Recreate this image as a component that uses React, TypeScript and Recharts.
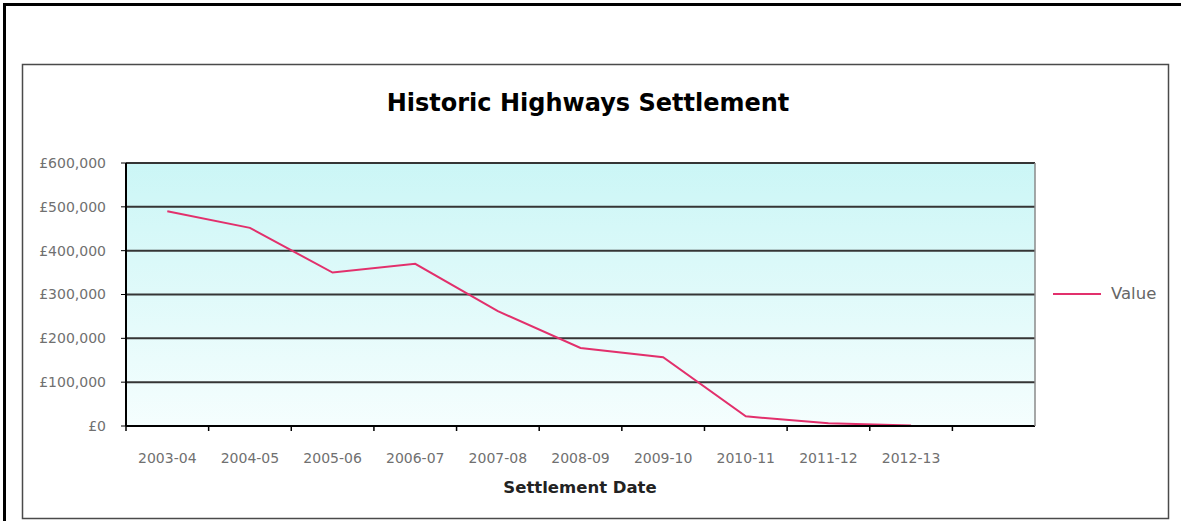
import React from 'react';
import { LineChart, Line, XAxis, YAxis, CartesianGrid, Legend, Customized } from 'recharts';

const categories = ['2003-04', '2004-05', '2005-06', '2006-07', '2007-08', '2008-09', '2009-10', '2010-11', '2011-12', '2012-13', ''];
const values: (number | null)[] = [490000, 452000, 350000, 370000, 262000, 178000, 157000, 22000, 6000, 1000, null];
const yTicks = [0, 100000, 200000, 300000, 400000, 500000, 600000];
const seriesName = 'Value';
const titleText = 'Historic Highways Settlement';
const xTitleText = 'Settlement Date';

const data = categories.map((c, i) => ({ cat: c, value: values[i] }));

const FONT = '"DejaVu Sans", "Liberation Sans", Arial, sans-serif';
const LINE_COLOR = '#e2306c';
const HALF_BAND = 41.3;

const fmt = (v: number) => '£' + v.toLocaleString('en-GB');

const XTick = (props: any) => {
  const { x, y, payload } = props;
  return (
    <g>
      <line x1={x - HALF_BAND} x2={x - HALF_BAND} y1={y} y2={y + 5} stroke="#000" strokeWidth={1.5} />
      <text x={x} y={y + 37} textAnchor="middle" fontFamily={FONT} fontSize={14} fill="#707070">
        {payload.value}
      </text>
    </g>
  );
};

const Decor = () => (
  <g>
    <defs>
      <linearGradient id="plotBg" x1="0" y1="0" x2="0" y2="1">
        <stop offset="0%" stopColor="#cbf6f6" />
        <stop offset="100%" stopColor="#f5fefe" />
      </linearGradient>
    </defs>
    <rect x={4.5} y={4.5} width={1300} height={700} fill="none" stroke="#000" strokeWidth={3} />
    <rect x={22.5} y={64.5} width={1146} height={454} fill="none" stroke="#4a4a4a" strokeWidth={1.5} />
    <text x={588} y={111} textAnchor="middle" fontFamily={FONT} fontWeight="bold" fontSize={24} fill="#000">
      {titleText}
    </text>
    <text x={580} y={493} textAnchor="middle" fontFamily={FONT} fontWeight="bold" fontSize={16.5} fill="#222">
      {xTitleText}
    </text>
  </g>
);

const LegendContent = (props: any) => {
  const item = props.payload && props.payload[0];
  return (
    <div style={{ display: 'flex', alignItems: 'center', fontFamily: FONT }}>
      <svg width={50} height={6}>
        <line x1={0} x2={48} y1={3} y2={3} stroke={item ? item.color : LINE_COLOR} strokeWidth={2} />
      </svg>
      <span style={{ fontSize: 16.5, color: '#666', marginLeft: 8 }}>{item ? item.value : seriesName}</span>
    </div>
  );
};

export default function App() {
  return (
    <div style={{ position: 'absolute', left: 0, top: 0, width: 1181, height: 521, background: '#fff', fontFamily: FONT }}>
      <LineChart width={1181} height={521} data={data} margin={{ top: 163, right: 145, bottom: 0, left: 0 }}>
        <Customized component={Decor} />
        <CartesianGrid yAxisId="left" vertical={false} fill="url(#plotBg)" fillOpacity={1} stroke="#353535" strokeWidth={2} />
        <XAxis
          dataKey="cat"
          height={95}
          interval={0}
          padding={{ left: HALF_BAND, right: HALF_BAND }}
          tickSize={0}
          tickMargin={0}
          tickLine={false}
          axisLine={{ stroke: '#000', strokeWidth: 2 }}
          tick={<XTick />}
        />
        <YAxis
          yAxisId="left"
          width={126}
          domain={[0, 600000]}
          ticks={yTicks}
          interval={0}
          tickFormatter={fmt}
          tickSize={5}
          tickMargin={15}
          axisLine={{ stroke: '#000', strokeWidth: 2 }}
          tickLine={{ stroke: '#000' }}
          tick={{ fontFamily: FONT, fontSize: 14, fill: '#707070' }}
        />
        <YAxis
          yAxisId="right"
          orientation="right"
          width={1}
          domain={[0, 600000]}
          tick={false}
          tickLine={false}
          axisLine={{ stroke: '#8a8a8a', strokeWidth: 1.5 }}
        />
        <Legend
          layout="horizontal"
          verticalAlign="middle"
          align="center"
          wrapperStyle={{ left: 1053, top: 284, width: 125, height: 24 }}
          content={<LegendContent />}
        />
        <Line
          yAxisId="left"
          type="linear"
          dataKey="value"
          name={seriesName}
          stroke={LINE_COLOR}
          strokeWidth={2}
          dot={false}
          activeDot={false}
          isAnimationActive={false}
        />
      </LineChart>
    </div>
  );
}
